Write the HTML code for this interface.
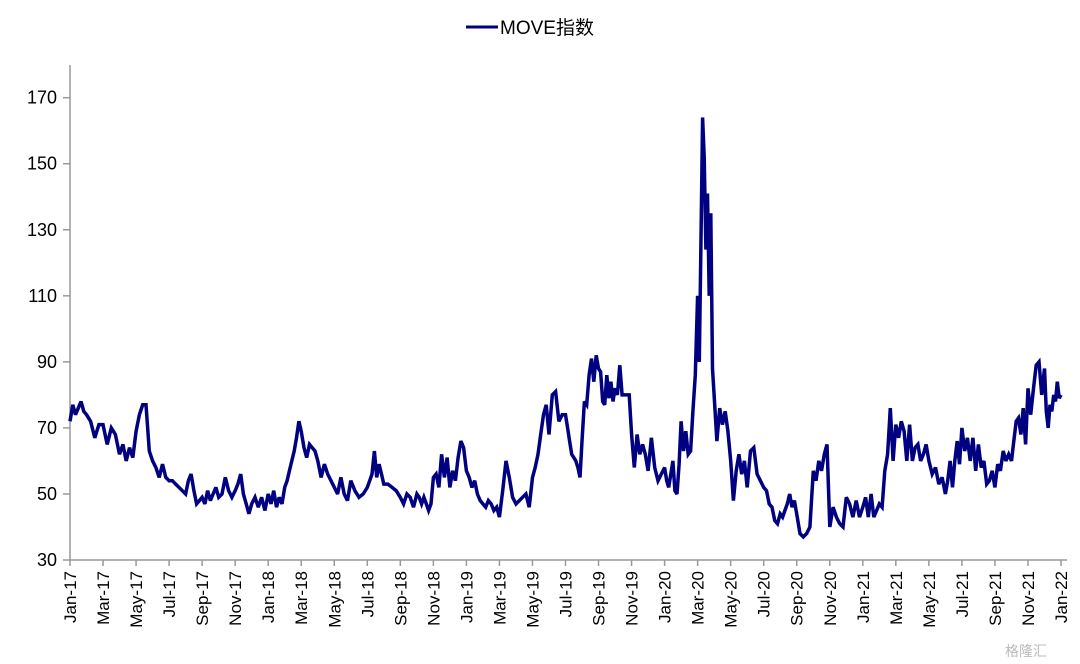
<!DOCTYPE html>
<html><head><meta charset="utf-8"><style>
html,body{margin:0;padding:0;background:#fff;}
svg{display:block;font-family:"Liberation Sans","Noto Sans CJK SC",sans-serif;}
</style></head><body>
<svg id="chart" width="1080" height="664" viewBox="0 0 1080 664" xmlns="http://www.w3.org/2000/svg">
<g>
<line x1="466" y1="27" x2="498" y2="27" stroke="#000080" stroke-width="3"/>
<text x="500" y="34" font-size="19" fill="#000">MOVE指数</text>
</g>
<g id="axes"></g>
<g id="series"></g>
<text x="1005" y="656" font-size="14" fill="#bbb">格隆汇</text>
</svg>
<script>
const yTicks=[30,50,70,90,110,130,150,170];
const xLabels=["Jan-17","Mar-17","May-17","Jul-17","Sep-17","Nov-17","Jan-18","Mar-18","May-18","Jul-18","Sep-18","Nov-18","Jan-19","Mar-19","May-19","Jul-19","Sep-19","Nov-19","Jan-20","Mar-20","May-20","Jul-20","Sep-20","Nov-20","Jan-21","Mar-21","May-21","Jul-21","Sep-21","Nov-21","Jan-22"];
// MOVE values grouped by month (Jan-17 .. Jan-22)
const monthlyValues=[
[72,77,74,76,78,75],[74,72,67,71],[71,65,70,68],[62,65,60,64,61],[69,74,77,77,63],
[60,58,55,59,55],[54,54,53,52,51],[50,54,56,51,47,48],[49,47,51,48,50,52],[49,50,55,51,49],
[51,53,56,50,47,44],[47,49,46,49,45],[50,47,51,46,49,47],[52,54,57,60,63,67,72],[69,64,61,65,64,63],
[60,55,59,56,54],[52,50,55,50,48],[54,51,49,50],[52,54,56,63,55,59,56],[53,53,52,51],
[49,47,50,49,46],[50,49,47,49,47,45,47],[55,56,52,62,55,61],[52,57,54,61,66,64],[57,55,52,54,50,48],
[47,46,48,47,45,46],[43,51,60,55,49],[47,48,49,50,46],[55,58,62,68,74,77],[68,80,81,72,74],
[74,70,66,62,61,60,58,55],[66,78,77,86,91,84,92],[88,87,78,77,86,79,84,78],[82,80,89,80,80,80,80],[68,58,68,62,65,62],
[57,67,58,54,56],[58,54,52,56,60,51,50,59],[72,63,69,62,63,75,86],[110,90,125,164,152,124,141,110,135,88],[80,66,76,71,75,69],
[60,48,57,62,56,60],[52,63,64,56,54],[52,51,47,46,42,41],[44,43,45,47,50,46,48],[44,38,37,38,40],
[57,54,60,57,62,65],[40,46,43,41,40],[49,47,43,48,43],[46,49,43,50,43,45],[47,46,57,62,76,60],
[71,67,72,69,60,71],[60,64,65,60,62,65],[60,56,58,53,55],[50,54,60,52,60,66,59],[70,63,67,60,67,57],
[65,58,60,53,54,57],[52,59,57,63,60,62],[60,66,72,73,68,76,65],[82,74,82,89,90,80],[88,75,70,77,75,80,78,84,79],
[80]
];
const NS="http://www.w3.org/2000/svg";
const X0=70,X1=1061,Y0=560,YTOP=97.7;
function xScale(m){return X0+m*(X1-X0)/60;}
function yScale(v){return Y0-(v-30)*(Y0-YTOP)/140;}
const axes=document.getElementById('axes');
function mk(tag,attrs,parent){const e=document.createElementNS(NS,tag);for(const k in attrs)e.setAttribute(k,attrs[k]);parent.appendChild(e);return e;}
const yAxis=mk('line',{x1:X0,y1:65,x2:X0,y2:Y0,stroke:'#999','stroke-width':1.5},axes);


const xAxis=mk('line',{x1:X0,y1:Y0,x2:X1+6,y2:Y0,stroke:'#999','stroke-width':1.5},axes);


yTicks.forEach(v=>{
 const y=yScale(v);
 const t=mk('line',{x1:X0-7,y1:y,x2:X0,y2:y,stroke:'#999','stroke-width':1.5},axes);
 
 
 const l=mk('text',{x:57,y:y+6,'font-size':18,'text-anchor':'end',fill:'#000'},axes);
 l.textContent=v;
 
 
});
xLabels.forEach((s,i)=>{
 const x=xScale(i*2);
 const t=mk('line',{x1:x,y1:Y0,x2:x,y2:Y0+6,stroke:'#999','stroke-width':1.5},axes);
 
 
 const l=mk('text',{x:0,y:0,'font-size':17,'text-anchor':'end',fill:'#000',transform:`translate(${x+6},571) rotate(-90)`},axes);
 l.textContent=s;
 
 
});
const pts=[];
monthlyValues.forEach((arr,m)=>{arr.forEach((v,j)=>{pts.push([xScale(m+j/arr.length),yScale(v)]);});});
const path=mk('path',{d:'M'+pts.map(p=>p[0].toFixed(1)+','+p[1].toFixed(1)).join('L'),fill:'none',stroke:'#000080','stroke-width':3.5,'stroke-linejoin':'miter','stroke-miterlimit':3},document.getElementById('series'));


</script>
</body></html>
